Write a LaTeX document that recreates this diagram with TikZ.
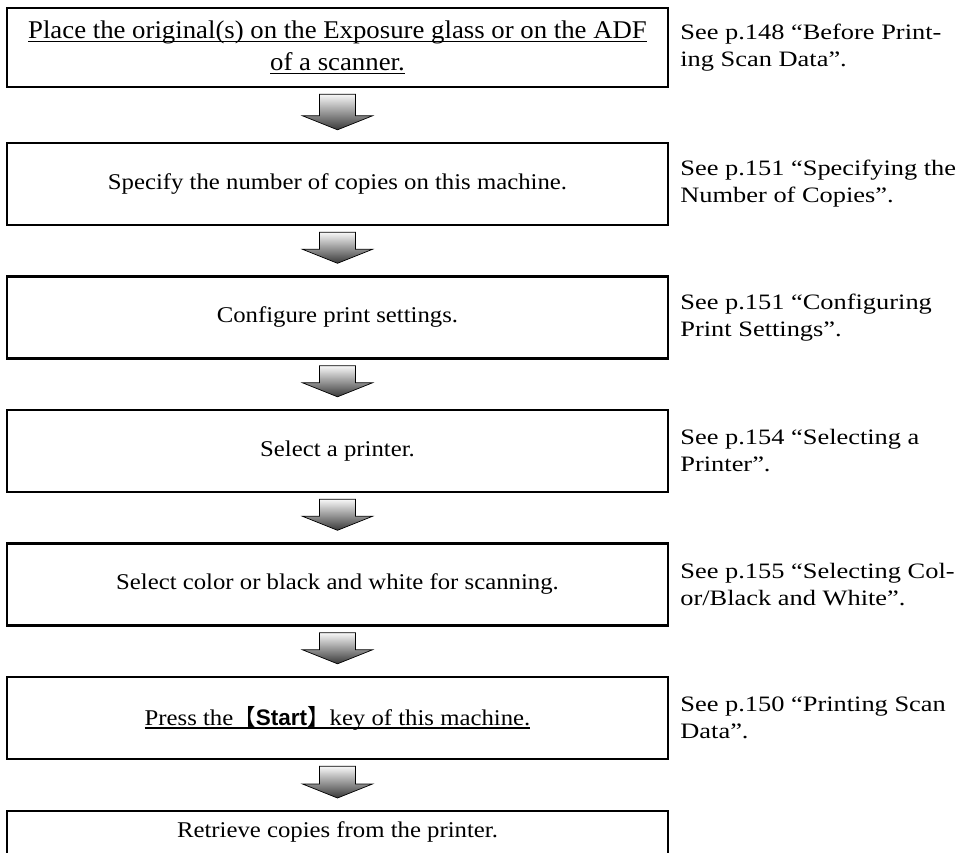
\documentclass[tikz,border=0pt]{standalone}
\usepackage{fontspec}
\setmainfont{Liberation Serif}[FakeStretch=1.1]
\newfontfamily\boxonefont{Liberation Serif}[FakeStretch=1.05]
\newfontfamily\notefont{Liberation Serif}[FakeStretch=1.2]
\newfontfamily\cjkfont{Noto Sans CJK JP}
\newfontfamily\keyfont{Liberation Sans}
\usetikzlibrary{calc}
\newcommand\myul[1]{\setbox0\hbox{#1}\rlap{\rule[-4pt]{\wd0}{1.8pt}}\box0}
\newcommand\flowarr[2]{%
  \shade[flowarrow] ($(#1.south)+(-18,6)$) -- ($(#1.south)+(18,6)$) --
    ($(#2.north)+(18,-26)$) -- ($(#2.north)+(35,-26)$) -- ($(#2.north)+(0,-12)$) --
    ($(#2.north)+(-35,-26)$) -- ($(#2.north)+(-18,-26)$) -- cycle;}
\begin{document}
\begin{tikzpicture}[x=1pt,y=-1pt,
  stepbox/.style={draw=black, line width=2.4pt, minimum width=661pt, inner sep=0pt, align=center, font=\fontsize{22.5}{33}\selectfont},
  note/.style={anchor=west, align=left, inner sep=0pt, font=\notefont\fontsize{22}{27}\selectfont},
  flowarrow/.style={top color=gray!5, bottom color=black!78, draw=black, line width=0.7pt}]
\clip (0,0) rectangle (961,853);
\useasboundingbox (0,0) rectangle (961,853);
\fill[white] (0,0) rectangle (961,853);
\node[stepbox, minimum height=79pt, font={\boxonefont\fontsize{25.5}{32}\selectfont}] (b1) at (337.5,47.5)
  {\myul{Place the original(s) on the Exposure glass or on the ADF}\\\myul{of a scanner.}};
\node[stepbox, minimum height=82pt] (b2) at (337.5,184) {Specify the number of copies on this machine.};
\node[stepbox, minimum height=82pt] (b3) at (337.5,317.5) {Configure print settings.};
\node[stepbox, minimum height=82pt] (b4) at (337.5,451) {Select a printer.};
\node[stepbox, minimum height=82pt] (b5) at (337.5,584.5) {Select color or black and white for scanning.};
\node[stepbox, minimum height=82pt] (b6) at (337.5,718) {\myul{Press the{\cjkfont 【}{\keyfont\bfseries Start}{\cjkfont 】}key of this machine.}};
\node[stepbox, minimum height=82pt, anchor=north] (b7) at (337.5,810) {};
\node[font=\fontsize{22.5}{27}\selectfont, inner sep=0pt] (t7) at ($(b7.north)+(0,22)$) {Retrieve copies from the printer.};
\node[note] (n1) at ($(b1.east)+(11,0)$) {See p.148 “Before Print-\\ing Scan Data”.};
\node[note] (n2) at ($(b2.east)+(11,0)$) {See p.151 “Specifying the\\Number of Copies”.};
\node[note] (n3) at ($(b3.east)+(11,0)$) {See p.151 “Configuring\\Print Settings”.};
\node[note] (n4) at ($(b4.east)+(11,0)$) {See p.154 “Selecting a\\Printer”.};
\node[note] (n5) at ($(b5.east)+(11,0)$) {See p.155 “Selecting Col-\\or/Black and White”.};
\node[note] (n6) at ($(b6.east)+(11,0)$) {See p.150 “Printing Scan\\Data”.};
\flowarr{b1}{b2}
\flowarr{b2}{b3}
\flowarr{b3}{b4}
\flowarr{b4}{b5}
\flowarr{b5}{b6}
\flowarr{b6}{b7}
\end{tikzpicture}
\end{document}
